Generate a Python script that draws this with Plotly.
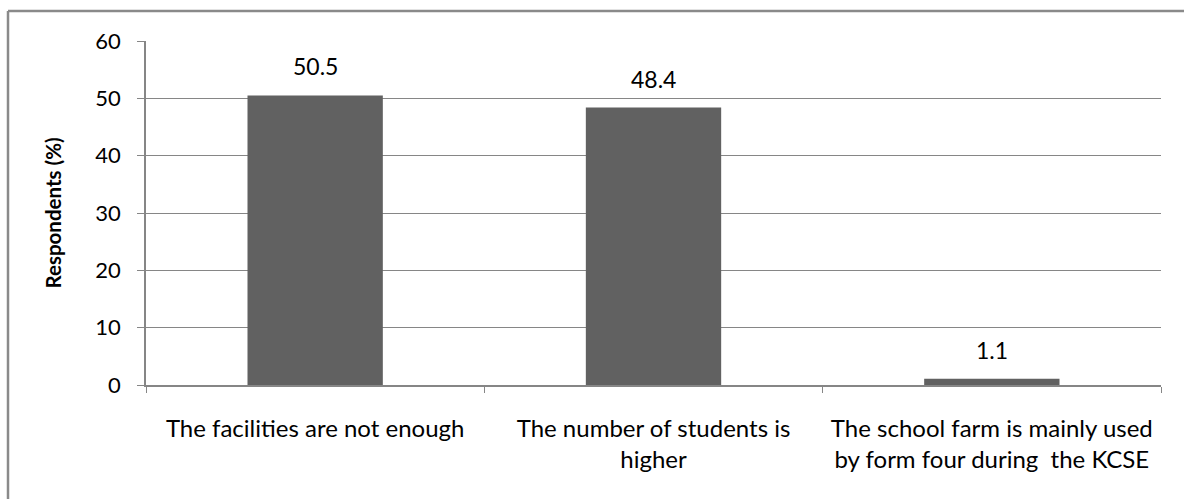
import plotly.graph_objects as go

categories = [
    "The facilities are not enough",
    "The number of students is<br>higher",
    "The school farm is mainly used<br>by form four during  the KCSE",
]
values = [50.5, 48.4, 1.1]
value_labels = ["50.5", "48.4", "1.1"]
y_ticks = [0, 10, 20, 30, 40, 50, 60]

FONT = "Lato, Calibri, Carlito, sans-serif"
GRID = "#868686"
BAR = "#616161"

W, H = 1184, 499
L, R, T, B = 146, 23, 41, 114
pw, ph = W - L - R, H - T - B

def px_x(p):
    return (p - L) / pw

def px_y(p):
    return (H - B - p) / ph

fig = go.Figure()
fig.add_trace(go.Bar(
    x=categories, y=values, marker=dict(color=BAR, line=dict(width=0)),
    hoverinfo="skip",
))

for c, v, t in zip(categories, values, value_labels):
    fig.add_annotation(x=c, y=v, text=t, showarrow=False, yanchor="bottom",
                       yshift=13, font=dict(family=FONT, size=23, color="#000000"))

# outer frame (left and top edges)
fig.add_shape(type="line", xref="paper", yref="paper",
              x0=px_x(8), x1=px_x(8), y0=px_y(11), y1=px_y(520),
              line=dict(color="#8a8a8a", width=2.5))
fig.add_shape(type="line", xref="paper", yref="paper",
              x0=px_x(8), x1=px_x(1200), y0=px_y(11), y1=px_y(11),
              line=dict(color="#8a8a8a", width=2.5))

fig.update_layout(
    width=W, height=H,
    margin=dict(l=L, r=R, t=T, b=B),
    paper_bgcolor="white", plot_bgcolor="white",
    bargap=0.6, showlegend=False,
    font=dict(family=FONT, size=23, color="#000000"),
)
fig.update_xaxes(
    type="category", tickson="boundaries", ticks="outside", ticklen=6,
    tickcolor=GRID, showline=True, linecolor=GRID, linewidth=1.5,
    showgrid=False, tickfont=dict(family=FONT, size=24, color="#000000"),
    ticklabelstandoff=21, tickangle=0,
)
fig.update_yaxes(
    range=[0, 60], tickvals=y_ticks, ticks="outside", ticklen=7,
    tickcolor=GRID, showline=True, linecolor=GRID, linewidth=1.5,
    showgrid=True, gridcolor=GRID, gridwidth=1, zeroline=False,
    tickfont=dict(family=FONT, size=22, color="#000000"),
    ticklabelstandoff=12,
    title=dict(text="<b>Respondents (%)</b>", font=dict(family=FONT, size=20.5, color="#000000"), standoff=28),
)

fig.write_html("out.html")
